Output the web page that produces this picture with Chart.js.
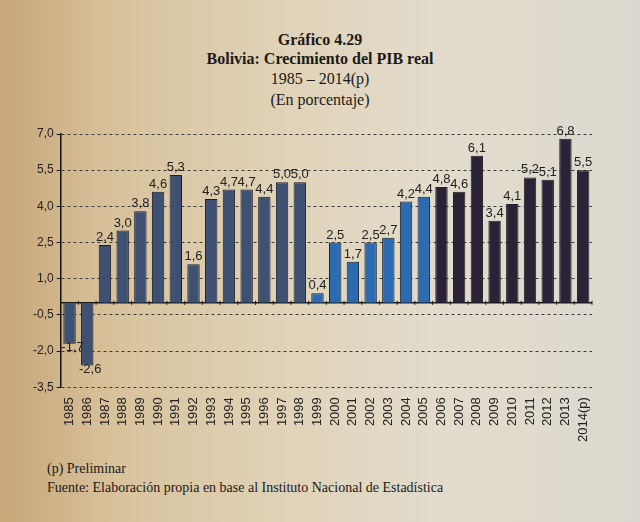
<!DOCTYPE html>
<html><head><meta charset="utf-8">
<script src="https://cdn.jsdelivr.net/npm/chart.js@4"></script>
<style>
html,body{margin:0;padding:0;}
body{width:640px;height:522px;overflow:hidden;position:relative;
background:linear-gradient(90deg,#c7a678 0%,#d8c29c 18%,#e0d3b8 45%,#e3dccd 70%,#dcd8cf 100%);
font-family:"Liberation Serif",serif;color:#1c1a18;}
.t{position:absolute;left:0;width:640px;text-align:center;font-size:16px;}
#c{position:absolute;left:0;top:0;}
.f{position:absolute;left:47px;font-size:14px;}
</style></head><body>
<div class="t" style="top:31px;font-weight:600">Gráfico 4.29</div>
<div class="t" style="top:50px;font-weight:600">Bolivia: Crecimiento del PIB real</div>
<div class="t" style="top:70px">1985 – 2014(p)</div>
<div class="t" style="top:91px">(En porcentaje)</div>
<div class="f" style="top:461px">(p) Preliminar</div>
<div class="f" style="top:480px">Fuente: Elaboración propia en base al Instituto Nacional de Estadística</div>
<canvas id="c" width="640" height="522"></canvas>
<script>
const years = ["1985","1986","1987","1988","1989","1990","1991","1992","1993","1994","1995","1996","1997","1998","1999","2000","2001","2002","2003","2004","2005","2006","2007","2008","2009","2010","2011","2012","2013","2014(p)"];
const growth = [-1.7,-2.6,2.4,3.0,3.8,4.6,5.3,1.6,4.3,4.7,4.7,4.4,5.0,5.0,0.4,2.5,1.7,2.5,2.7,4.2,4.4,4.8,4.6,6.1,3.4,4.1,5.2,5.1,6.8,5.5];
const yTicks = [-3.5,-2.0,-0.5,1.0,2.5,4.0,5.5,7.0];

const colorFor = y => { const n=parseInt(y); return n<=1998?'#3e5173':(n<=2005?'#2d6bb0':'#2a2236'); };
const barColors = years.map(colorFor);
const fmt = v => v.toFixed(1).replace('.',',');

const extras = {
  id:'extras',
  beforeDatasetsDraw(chart){
    const {ctx, chartArea:a, scales:{x,y}} = chart;
    const y0 = y.getPixelForValue(0);
    const step = x.getPixelForValue(1)-x.getPixelForValue(0);
    ctx.save();
    ctx.strokeStyle='#1a1a1a'; ctx.lineWidth=1.5;
    ctx.beginPath(); ctx.moveTo(a.left,y0); ctx.lineTo(a.right,y0); ctx.stroke();
    ctx.lineWidth=1;
    for(let i=0;i<=years.length;i++){
      const px = x.getPixelForValue(0)-step/2+i*step;
      ctx.beginPath(); ctx.moveTo(px,y0-2); ctx.lineTo(px,y0+2); ctx.stroke();
    }
    ctx.restore();
  },
  afterDatasetsDraw(chart){
    const {ctx} = chart;
    const meta = chart.getDatasetMeta(0);
    ctx.save();
    ctx.font='13px "Liberation Sans", Arial, sans-serif';
    ctx.fillStyle='#222'; ctx.textAlign='center';
    meta.data.forEach((bar,i)=>{
      const v = growth[i];
      if(v>=0){ ctx.textBaseline='bottom'; ctx.fillText(fmt(v), bar.x, bar.y-1); }
      else { ctx.textBaseline='middle'; ctx.fillText(fmt(v), bar.x+3, bar.y+4); }
    });
    ctx.restore();
  }
};

new Chart(document.getElementById('c'),{
  type:'bar',
  data:{labels:years,datasets:[{data:growth,backgroundColor:barColors,borderColor:'#1e1e28',borderWidth:1,barPercentage:0.7,categoryPercentage:1}]},
  options:{
    responsive:false,animation:false,
    layout:{padding:{top:134,bottom:78,left:30,right:48}},
    plugins:{legend:{display:false},tooltip:{enabled:false}},
    scales:{
      y:{min:-3.5,max:7,
        afterBuildTicks(s){ s.ticks = yTicks.map(v=>({value:v})); },
        ticks:{callback:v=>fmt(v),color:'#222',font:{family:'"Liberation Sans", Arial, sans-serif',size:12},padding:3},
        grid:{color:'#3c3c3c',lineWidth:1,tickLength:4,drawTicks:true,tickColor:'#111'},
        border:{display:true,color:'#111',width:1.5,dash:[3,3]},
      },
      x:{
        ticks:{minRotation:90,maxRotation:90,autoSkip:false,color:'#222',font:{family:'"Liberation Sans", Arial, sans-serif',size:13},padding:2},
        grid:{display:false},
        border:{display:false}
      }
    }
  },
  plugins:[extras]
});
</script>
</body></html>
